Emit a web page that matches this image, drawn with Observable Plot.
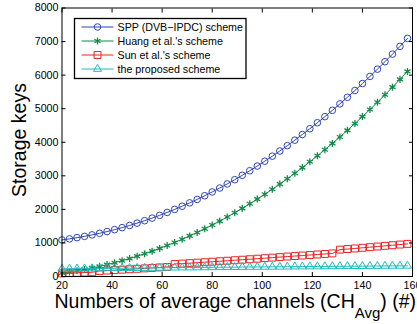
<!DOCTYPE html>
<html><head><meta charset="utf-8">
<script src="https://cdn.jsdelivr.net/npm/d3@7"></script>
<script src="https://cdn.jsdelivr.net/npm/@observablehq/plot@0.6"></script>
<style>
html,body{margin:0;padding:0;background:#fff;}
#chart svg{display:block;}
</style></head><body><div id="chart"></div>
<script>
const channels = [20,23,26,29,32,35,38,41,44,47,50,53,56,59,62,65,68,71,74,77,80,83,86,89,92,95,98,101,104,107,110,113,116,119,122,125,128,131,134,137,140,143,146,149,152,155,158];
const spp = [1090,1121,1157,1196,1240,1287,1339,1396,1456,1521,1590,1663,1740,1822,1909,1999,2094,2194,2297,2406,2519,2636,2758,2884,3015,3151,3291,3436,3585,3739,3898,4062,4230,4403,4581,4763,4951,5143,5340,5542,5749,5961,6178,6400,6626,6858,7095];
const huang = [105,136,172,211,255,302,354,411,471,536,605,678,755,837,924,1014,1109,1209,1312,1421,1534,1651,1773,1899,2030,2166,2306,2451,2600,2754,2913,3077,3245,3418,3596,3778,3966,4158,4355,4557,4764,4976,5193,5415,5641,5873,6110];
const sun = [92,100,108,116,126,165,178,190,203,216,229,242,256,270,284,372,385,398,412,426,440,455,470,485,500,515,530,546,562,578,594,609,624,640,656,672,688,800,818,836,855,874,893,913,932,952,972];
const proposed = [228,230,233,236,238,240,243,245,247,250,252,254,256,258,261,263,265,267,269,271,273,275,277,279,281,283,284,286,288,290,292,294,295,297,299,301,302,304,306,307,309,311,312,314,316,317,319];
const seriesNames = ["SPP (DVB\u2212IPDC) scheme", "Huang et al.'s scheme", "Sun et al.'s scheme", "the proposed scheme"];
const seriesColors = ["#2f45b5", "#148a48", "#ee2222", "#1fbcbc"];
const seriesSymbols = ["circle", "asterisk", "square", "triangle"];
const seriesRadius = [3.3, 3.3, 3.9, 3.0];
const xTicks = [20,40,60,80,100,120,140,160];
const yTicks = [0,1000,2000,3000,4000,5000,6000,7000,8000];
const yTitle = "Storage keys";
const xTitleMain = "Numbers of average channels (CH";
const xTitleSub = "Avg";
const xTitleEnd = ") (#)";

const seriesValues = [spp, huang, sun, proposed];
const font = "'Liberation Sans', Arial, Helvetica, sans-serif";

const seriesMarks = seriesValues.flatMap((vals, s) => {
  const rows = vals.map((v, i) => ({x: channels[i], y: v}));
  return [
    Plot.line(rows, {x: "x", y: "y", stroke: seriesColors[s], strokeWidth: 1}),
    Plot.dot(rows, {x: "x", y: "y", symbol: seriesSymbols[s], r: seriesRadius[s], stroke: seriesColors[s], fill: "none", strokeWidth: s === 1 ? 1.3 : 1})
  ];
});

const chart = Plot.plot({
  width: 417, height: 324,
  marginLeft: 61.5, marginRight: 5, marginTop: 7.5, marginBottom: 48,
  style: {fontFamily: font, fontSize: "10.7px", color: "#000", background: "white"},
  x: {domain: [20, 160], label: null},
  y: {domain: [0, 8000], label: null},
  marks: [
    ...seriesMarks,
    Plot.frame({stroke: "#000", strokeWidth: 1}),
    Plot.axisX({ticks: xTicks, tickSize: -4, tickPadding: 9, tickFormat: d => String(d), label: null}),
    Plot.axisX({anchor: "top", ticks: xTicks, tickSize: -4, tickFormat: () => "", label: null}),
    Plot.axisY({ticks: yTicks, tickSize: -4, tickPadding: 7.5, tickFormat: d => String(d), label: null}),
    Plot.axisY({anchor: "right", ticks: yTicks, tickSize: -4, tickFormat: () => "", label: null})
  ]
});
document.getElementById("chart").appendChild(chart);

const svg = d3.select(chart);
svg.append("text")
  .attr("transform", "translate(25.5,140) rotate(-90)")
  .attr("text-anchor", "middle")
  .attr("fill", "#000")
  .style("font-family", font).style("font-size", "19.5px")
  .text(yTitle);
const xt = svg.append("text")
  .attr("x", 54.5).attr("y", 308)
  .attr("text-anchor", "start")
  .attr("fill", "#000")
  .style("font-family", font).style("font-size", "19.5px");
xt.append("tspan").text(xTitleMain);
xt.append("tspan").attr("dy", 9.5).style("font-size", "15px").text(xTitleSub);
xt.append("tspan").attr("dy", -9.5).text(xTitleEnd);

// legend
const lg = svg.append("g").style("font-family", font).style("font-size", "10.7px").attr("text-anchor", "start");
lg.append("rect").attr("x", 74.5).attr("y", 18.5).attr("width", 171.5).attr("height", 60)
  .attr("fill", "white").attr("stroke", "#000").attr("stroke-width", 1.3);
const symMap = {circle: d3.symbolCircle, asterisk: d3.symbolAsterisk, square: d3.symbolSquare, triangle: d3.symbolTriangle};
seriesNames.forEach((name, s) => {
  const y = 27 + s * 14;
  lg.append("line").attr("x1", 81.5).attr("x2", 113.5).attr("y1", y).attr("y2", y)
    .attr("stroke", seriesColors[s]).attr("stroke-width", 1);
  lg.append("path")
    .attr("transform", `translate(97.5,${y})`)
    .attr("d", d3.symbol(symMap[seriesSymbols[s]], seriesRadius[s] * seriesRadius[s] * Math.PI)())
    .attr("fill", "none").attr("stroke", seriesColors[s]).attr("stroke-width", s === 1 ? 1.3 : 1);
  lg.append("text").attr("x", 117.5).attr("y", y).attr("dy", "0.35em")
    .attr("text-anchor", "start").attr("fill", "#000").text(name);
});
</script>
</body></html>
